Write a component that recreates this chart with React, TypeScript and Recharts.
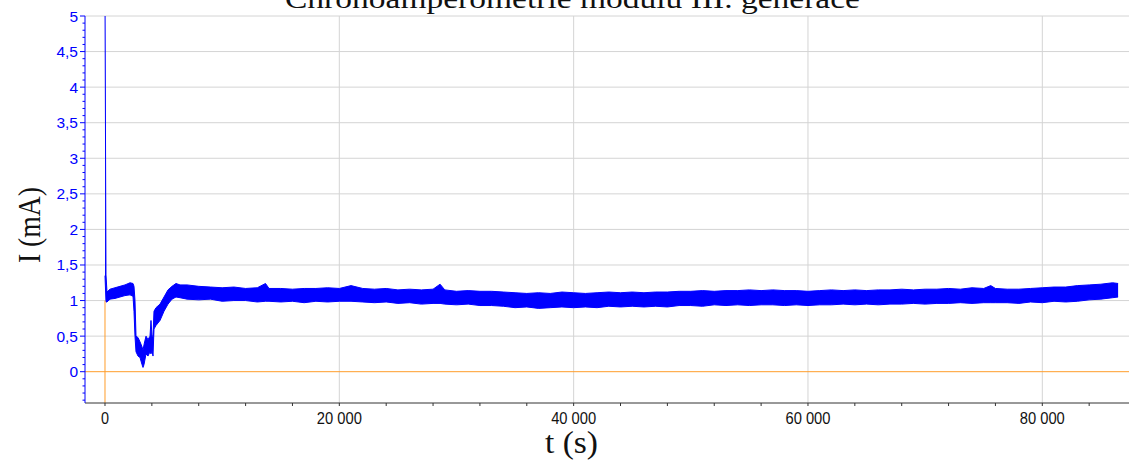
import React from "react";
import { ComposedChart, Area, XAxis, YAxis, CartesianGrid, ReferenceLine } from "recharts";

// time (s)
const times = [
  0, 85, 170, 427, 854, 1280, 1707, 2134, 2390, 2475, 2560, 2646, 2817, 2988, 3158, 3244, 3329, 3500,
  3670, 3841, 3926, 4012, 4097, 4182, 4353, 4695, 5036, 5378, 5719, 6060, 6402,
  7000, 8000, 9000, 10000, 11000, 12000, 13000, 13700, 14000, 15000, 16000, 17000, 18000, 19000,
  20000, 21000, 22000, 23000, 24000, 25000, 26000, 27000, 28000, 28600, 29000, 30000, 31000, 32000,
  33000, 34000, 35000, 36000, 37000, 38000, 39000, 40000, 41000, 42000, 43000, 44000, 45000, 46000,
  47000, 48000, 49000, 50000, 51000, 52000, 53000, 54000, 55000, 56000, 57000, 58000, 59000, 60000,
  61000, 62000, 63000, 64000, 65000, 66000, 67000, 68000, 69000, 70000, 71000, 72000, 73000, 74000,
  75000, 75600, 76000, 77000, 78000, 79000, 80000, 81000, 82000, 83000, 84000, 85000, 86000, 86470,
];
// lower edge of the noisy current band (mA)
const lows = [
  1.35, 0.98, 0.98, 1.02, 1.03, 1.05, 1.07, 1.08, 1.06, 0.85, 0.5, 0.28, 0.22, 0.2, 0.1, 0.06, 0.1, 0.25,
  0.22, 0.28, 0.25, 0.3, 0.22, 0.6, 0.65, 0.72, 0.85, 0.95, 1.02, 1.05, 1.04,
  1.02, 1.01, 1.02, 0.99, 1.0, 1.0, 0.98, 0.99, 0.99, 0.98, 0.99, 0.97, 0.99, 0.98,
  0.99, 0.99, 0.98, 0.97, 0.98, 0.96, 0.97, 0.95, 0.96, 0.96, 0.95, 0.94, 0.95, 0.93,
  0.93, 0.92, 0.9, 0.91, 0.89, 0.9, 0.91, 0.9, 0.91, 0.9, 0.92, 0.91, 0.92, 0.91,
  0.92, 0.91, 0.93, 0.93, 0.92, 0.94, 0.93, 0.94, 0.93, 0.94, 0.94, 0.93, 0.94, 0.93,
  0.94, 0.94, 0.95, 0.94, 0.95, 0.94, 0.95, 0.95, 0.96, 0.95, 0.96, 0.96, 0.97, 0.96,
  0.97, 0.97, 0.97, 0.97, 0.96, 0.98, 0.97, 0.99, 0.98, 0.99, 1.01, 1.02, 1.04, 1.05,
];
// upper edge of the noisy current band (mA)
const highs = [
  5.3, 1.36, 1.12, 1.16, 1.18, 1.2, 1.22, 1.25, 1.24, 1.2, 1.0, 0.5, 0.48, 0.42, 0.35, 0.3, 0.38, 0.5,
  0.45, 0.5, 0.72, 0.5, 0.5, 0.85, 0.9, 0.95, 1.05, 1.15, 1.2, 1.24, 1.22,
  1.22, 1.2, 1.19, 1.18, 1.19, 1.17, 1.18, 1.24, 1.17, 1.17, 1.16, 1.17, 1.17, 1.18,
  1.17, 1.21, 1.17, 1.16, 1.17, 1.15, 1.16, 1.15, 1.16, 1.23, 1.15, 1.13, 1.14, 1.13,
  1.13, 1.12, 1.11, 1.1, 1.11, 1.1, 1.12, 1.11, 1.1, 1.11, 1.12, 1.11, 1.12, 1.11,
  1.12, 1.12, 1.13, 1.13, 1.14, 1.13, 1.14, 1.14, 1.15, 1.14, 1.15, 1.14, 1.14, 1.13,
  1.14, 1.15, 1.14, 1.15, 1.14, 1.15, 1.15, 1.16, 1.15, 1.16, 1.16, 1.17, 1.16, 1.18,
  1.17, 1.21, 1.17, 1.16, 1.16, 1.17, 1.18, 1.19, 1.19, 1.21, 1.22, 1.23, 1.25, 1.24,
];

const xMajorTicks = [0, 20000, 40000, 60000, 80000];
const yMajorTicks = [0, 0.5, 1, 1.5, 2, 2.5, 3, 3.5, 4, 4.5, 5];
const xMinorTicks = Array.from({ length: 22 }, (_, i) => i * 4000);
const yMinorTicks = Array.from({ length: 55 }, (_, i) => (i - 4) / 10);

const data = times.map((t, i) => ({ t, band: [lows[i], highs[i]] }));

const BLUE = "#0000ff";
const ORANGE = "#ff9d2a";
const GRID = "#d4d4d4";

const fmtX = (v: number) => (v === 0 ? "0" : `${Math.round(v / 1000)} 000`);
const fmtY = (v: number) => String(v).replace(".", ",");

const YTick = (props: any) => {
  const { x, y, payload } = props;
  const v = payload.value as number;
  const major = yMajorTicks.some((m) => Math.abs(m - v) < 1e-6);
  return (
    <g>
      <line x1={x} x2={x - (major ? 5 : 2.5)} y1={y} y2={y} stroke={BLUE} strokeWidth={1} />
      {major && (
        <text x={x - 7} y={y} dy={5.5} textAnchor="end" fill={BLUE} fontFamily="Liberation Sans, Arial, sans-serif" fontSize={15.5}>
          {fmtY(v)}
        </text>
      )}
    </g>
  );
};

const XTick = (props: any) => {
  const { x, y, payload } = props;
  const v = payload.value as number;
  const major = xMajorTicks.includes(v);
  const label = major ? fmtX(v) : "";
  return (
    <g>
      <line x1={x} x2={x} y1={y} y2={y + 3} stroke="#333" strokeWidth={1} />
      {major && (
        <text
          x={v === 0 ? x - 4 : x - 22.5}
          y={y + 21}
          textLength={v === 0 ? 8 : 45}
          lengthAdjust="spacingAndGlyphs"
          fill="#111"
          fontFamily="Liberation Sans, Arial, sans-serif"
          fontSize={16}
        >
          {label}
        </text>
      )}
    </g>
  );
};

export default function App() {
  return (
    <div style={{ position: "absolute", left: 0, top: 0, width: 1129, height: 461, background: "#fff", overflow: "hidden" }}>
      <ComposedChart width={1129} height={461} data={data} margin={{ top: 16, right: 0, bottom: 33, left: 0 }}>
        <CartesianGrid
          stroke={GRID}
          horizontalValues={[0.5, 1, 1.5, 2, 2.5, 3, 3.5, 4, 4.5, 5]}
          verticalValues={[20000, 40000, 60000, 80000]}
        />
        <XAxis
          dataKey="t"
          type="number"
          domain={[-1707, 87400]}
          allowDataOverflow
          ticks={xMinorTicks}
          interval={0}
          tickSize={0}
          tickMargin={0}
          tickLine={false}
          tick={<XTick />}
          height={25}
          axisLine={{ stroke: "#333" }}
        />
        <YAxis
          type="number"
          domain={[-0.44, 5]}
          allowDataOverflow
          ticks={yMinorTicks}
          interval={0}
          tickSize={0}
          tickMargin={0}
          tickLine={false}
          tick={<YTick />}
          width={85}
          axisLine={{ stroke: BLUE }}
        />
        <ReferenceLine y={0} stroke={ORANGE} strokeWidth={1} />
        <ReferenceLine segment={[{ x: 0, y: -0.44 }, { x: 0, y: 1.0 }]} stroke={ORANGE} strokeWidth={1} />
        <Area
          dataKey="band"
          type="linear"
          stroke={BLUE}
          strokeWidth={1}
          fill={BLUE}
          fillOpacity={1}
          isAnimationActive={false}
          dot={false}
          activeDot={false}
        />
      </ComposedChart>
      <svg width={1129} height={461} style={{ position: "absolute", left: 0, top: 0, pointerEvents: "none" }}>
        <text x={285} y={8} textLength={575} lengthAdjust="spacingAndGlyphs" fontFamily="Liberation Serif, DejaVu Serif, serif" fontSize={28} fill="#111">
          Chronoamperometrie modulu III. generace
        </text>
        <text
          x={0}
          y={0}
          transform="translate(40,263) rotate(-90)"
          textLength={76}
          lengthAdjust="spacingAndGlyphs"
          fontFamily="Liberation Serif, DejaVu Serif, serif"
          fontSize={31}
          fill="#111"
        >
          I (mA)
        </text>
        <text x={545} y={453} textLength={53} lengthAdjust="spacingAndGlyphs" fontFamily="Liberation Serif, DejaVu Serif, serif" fontSize={31} fill="#111">
          t (s)
        </text>
      </svg>
    </div>
  );
}
